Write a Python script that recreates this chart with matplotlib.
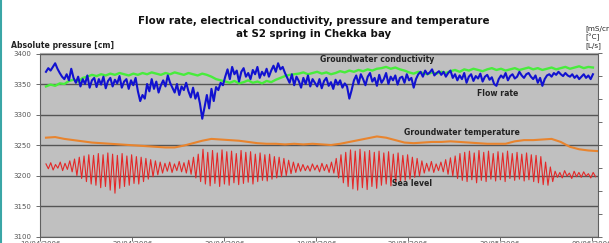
import numpy as np
import matplotlib
matplotlib.use("Agg")
import matplotlib.pyplot as plt
from matplotlib.lines import Line2D

# --- Data ---
# time axis in days from the first date tick
x_tick_pos = [0, 10, 20, 30, 40, 50, 60]
x_tick_labels = ["10/04/2006", "20/04/2006", "30/04/2006", "10/05/2006",
                 "20/05/2006", "30/05/2006", "09/06/2006"]
y_ticks = [3100, 3150, 3200, 3250, 3300, 3350, 3400]

# flow rate, sampled every 6 h
flow_rate = [
    3370, 3376, 3372, 3378, 3384, 3375, 3368,
    3362, 3358, 3366, 3356, 3375, 3360,
    3352, 3362, 3346, 3358, 3350, 3364, 3344, 3356, 3360, 3345, 3358, 3349, 3362, 3343,
    3355, 3360, 3346, 3357, 3351, 3363, 3344, 3354, 3358, 3342, 3356, 3348, 3360,
    3338, 3322, 3332, 3326,
    3350, 3338, 3358, 3342, 3354, 3336,
    3348, 3356, 3346, 3364, 3352,
    3344, 3336, 3350, 3332, 3346, 3340, 3352,
    3338, 3328, 3344, 3326, 3336, 3318,
    3293,
    3312, 3332, 3310, 3342, 3322,
    3345, 3340, 3352, 3348,
    3362, 3374, 3358, 3378, 3366, 3372, 3354, 3370, 3376, 3362,
    3368, 3358, 3373, 3366, 3378, 3360, 3370, 3364, 3375, 3362,
    3372, 3380, 3370, 3384, 3374, 3378, 3368,
    3360, 3352, 3366, 3348, 3362, 3355, 3344, 3360, 3350, 3364, 3346, 3358,
    3352, 3346, 3358, 3343, 3355, 3360, 3347, 3353, 3342, 3357, 3349, 3356, 3344, 3351, 3346,
    3326, 3340,
    3356, 3364, 3350, 3366, 3358, 3348, 3362, 3368, 3354, 3360, 3347,
    3365, 3352, 3358, 3368, 3350, 3362, 3356, 3364, 3349, 3360,
    3362, 3352, 3366, 3356, 3360, 3344, 3358,
    3366, 3370, 3362, 3372, 3366, 3369, 3374, 3364, 3368, 3371, 3365, 3370, 3362, 3368, 3372,
    3360, 3366, 3356, 3364, 3358, 3368, 3352, 3362, 3366, 3355, 3363, 3359, 3367, 3354, 3362,
    3365, 3357, 3361, 3350, 3347, 3358, 3364, 3360, 3368, 3356, 3363, 3366, 3359, 3362, 3370,
    3364, 3360, 3366, 3368, 3362, 3358, 3364, 3352, 3360, 3347, 3358, 3364, 3366, 3362, 3368,
    3365, 3370, 3366, 3363, 3368, 3364, 3362, 3366, 3360, 3364, 3358, 3362, 3366, 3360, 3364,
    3358, 3366,
]

# groundwater conductivity, sampled every 12 h
conductivity = [
    3346, 3349, 3347, 3351, 3350,
    3355, 3357, 3354, 3360,
    3362, 3365, 3363, 3366, 3364, 3367, 3365, 3368, 3366, 3364, 3367, 3365, 3368,
    3366, 3369, 3367, 3365, 3368, 3366, 3369, 3367, 3365, 3368, 3366, 3364, 3367, 3365,
    3362, 3358, 3356,
    3354, 3352, 3355, 3351, 3353, 3356, 3352, 3354, 3351, 3355, 3353, 3357, 3360, 3363,
    3365, 3366,
    3367, 3369, 3366, 3368, 3370, 3367, 3369, 3366, 3368, 3371, 3369, 3372, 3370, 3373,
    3371, 3374, 3372, 3375,
    3376, 3378, 3375, 3377, 3374, 3372,
    3369, 3367, 3370, 3368, 3366, 3369, 3367, 3370, 3368,
    3371, 3373, 3370, 3374, 3372, 3375, 3373, 3371, 3374, 3376, 3373, 3375, 3372, 3374,
    3376, 3373, 3375, 3377, 3374, 3376, 3373, 3375, 3377, 3374, 3376, 3378, 3375, 3377,
    3379, 3376, 3378, 3377,
]

# groundwater temperature, daily
temperature = [
    3262, 3263, 3260, 3258, 3256, 3254, 3253, 3252, 3251, 3250,
    3249, 3248, 3247, 3246, 3246, 3249, 3253, 3257, 3260, 3259,
    3258, 3257, 3255, 3253, 3252, 3252, 3251, 3252, 3251, 3252,
    3251, 3250, 3252, 3255, 3258, 3261, 3264, 3262, 3258, 3254,
    3253, 3254, 3255, 3255, 3256, 3255, 3254, 3253, 3252, 3252,
    3252, 3256, 3258, 3258, 3259, 3260, 3255, 3247, 3243, 3241,
    3240,
]

# sea level: successive tidal highs and lows
sea_high = [
    3219, 3221, 3218, 3222, 3220, 3224,
    3227, 3230, 3232, 3234,
    3233, 3236, 3234, 3237, 3235, 3233, 3236, 3232, 3234, 3231, 3230,
    3228, 3226, 3224, 3222,
    3220, 3222, 3219, 3223, 3221, 3225,
    3230, 3235, 3243, 3238, 3241, 3237, 3242, 3239, 3240, 3236,
    3241, 3238, 3239, 3235, 3237, 3234, 3235, 3231, 3230,
    3228, 3225, 3222, 3220,
    3218, 3216, 3219, 3217, 3220, 3218, 3222,
    3228, 3234, 3238, 3242, 3240, 3243, 3239, 3241, 3238,
    3240, 3237, 3239, 3235, 3237, 3233, 3234, 3230, 3228,
    3224, 3220, 3223, 3219, 3222, 3226, 3229,
    3232, 3236, 3238, 3240, 3237, 3241, 3238, 3240, 3236, 3239,
    3237, 3240, 3236, 3238, 3235, 3237, 3234, 3233, 3231,
    3222, 3214,
    3207, 3205, 3208, 3204, 3207, 3205, 3206, 3203, 3205,
]
sea_low = [
    3211, 3209, 3212, 3208, 3210, 3206,
    3200, 3195, 3190, 3186,
    3184, 3180, 3182, 3176, 3171, 3179, 3182, 3184, 3187, 3186, 3190,
    3194, 3198, 3201, 3204,
    3207, 3205, 3208, 3206, 3204, 3202,
    3196, 3190, 3186, 3183, 3187, 3182, 3186, 3184, 3188, 3185,
    3187, 3189, 3186, 3190, 3192, 3191, 3194, 3196, 3198,
    3200, 3203, 3205, 3207,
    3208, 3207, 3209, 3206, 3208, 3205, 3204,
    3196, 3188, 3182, 3178, 3176, 3180, 3177, 3182, 3179,
    3184, 3186, 3183, 3188, 3190, 3192, 3194, 3197, 3199,
    3204, 3207, 3205, 3208, 3206, 3202, 3199,
    3195, 3192, 3190, 3193, 3188, 3192, 3190, 3194, 3191, 3193,
    3190, 3195, 3192, 3194, 3191, 3193, 3190, 3188, 3185,
    3184, 3190,
    3197, 3196, 3199, 3195, 3198, 3197, 3199, 3196, 3198,
]

# --- Sampling of each record (days) ---
t_start = 0.6


def time_axis(n, step):
    return t_start + step * np.arange(n)


def main():
    sea_level = np.ravel(np.column_stack([sea_high, sea_low]))

    plt.rcParams["font.family"] = ["DejaVu Sans"]
    fig = plt.figure(figsize=(6.09, 2.43), dpi=100)
    fig.patch.set_facecolor("white")

    ax = fig.add_axes([40 / 609, 6.5 / 243, 558 / 609, 183 / 243])
    ax.set_facecolor("#c0c0c0")

    ax.plot(time_axis(len(conductivity), 0.5), conductivity, color="#48ec3c", lw=1.7)
    ax.plot(time_axis(len(flow_rate), 0.25), flow_rate, color="#1212d0", lw=1.5)
    ax.plot(time_axis(len(temperature), 1.0), temperature, color="#e8842e", lw=1.5)
    ax.plot(time_axis(len(sea_level), 0.2588), sea_level, color="#e42828", lw=0.8)

    # --- Axes styling ---
    ax.set_xlim(-0.05, 60.65)
    ax.set_ylim(3100, 3400)
    ax.set_yticks(y_ticks)
    ax.set_yticklabels([str(v) for v in y_ticks], fontsize=5, color="#333333")
    ax.set_xticks(x_tick_pos)
    ax.set_xticklabels(x_tick_labels, fontsize=5, color="#666666")
    ax.tick_params(axis="both", direction="out", length=3, width=0.6, colors="#555555")
    ax.tick_params(axis="x", pad=0.5)
    ax.yaxis.grid(True, color="#555555", lw=1.0)
    ax.set_axisbelow(True)
    for side in ["left", "bottom", "right"]:
        ax.spines[side].set_color("#606060")
        ax.spines[side].set_linewidth(0.8)
    ax.spines["top"].set_color("#a8a8a8")

    ax2 = ax.twinx()
    ax2.set_ylim(0, 8)
    ax2.set_yticks(range(9))
    ax2.set_yticklabels([])
    ax2.tick_params(axis="y", direction="out", length=3, width=0.6, colors="#555555")
    for side in ["left", "bottom", "right", "top"]:
        ax2.spines[side].set_visible(False)

    # --- Series annotations ---
    lbl = dict(fontsize=5.6, fontweight="bold", color="#222222", va="center")
    ax.text(36.6, 3390, "Groundwater conductivity", ha="center", **lbl)
    ax.text(47.5, 3334, "Flow rate", ha="left", **lbl)
    ax.text(39.6, 3271, "Groundwater temperature", ha="left", **lbl)
    ax.text(38.2, 3187, "Sea level", ha="left", **lbl)

    # --- Titles ---
    title_kw = dict(ha="center", va="center", fontsize=7.4, fontweight="bold", color="#111111")
    fig.text(314 / 609, 1 - 21 / 243,
             "Flow rate, electrical conductivity, pressure and temperature", **title_kw)
    fig.text(314 / 609, 1 - 34 / 243, "at S2 spring in Chekka bay", **title_kw)
    fig.text(11 / 609, 1 - 45 / 243, "Absolute pressure [cm]",
             ha="left", va="center", fontsize=5.6, fontweight="bold", color="#222222")
    fig.text(585 / 609, 1 - 37 / 243, "[mS/cm]\n[°C]\n[L/s]",
             ha="left", va="center", fontsize=5.2, color="#222222", linespacing=1.25)

    # slide border on the left edge
    fig.add_artist(Line2D([1 / 609, 1 / 609], [0, 1], transform=fig.transFigure,
                          color="#3aa6a6", lw=1.5))

    fig.savefig("out.png", dpi=100)


if __name__ == "__main__":
    main()
